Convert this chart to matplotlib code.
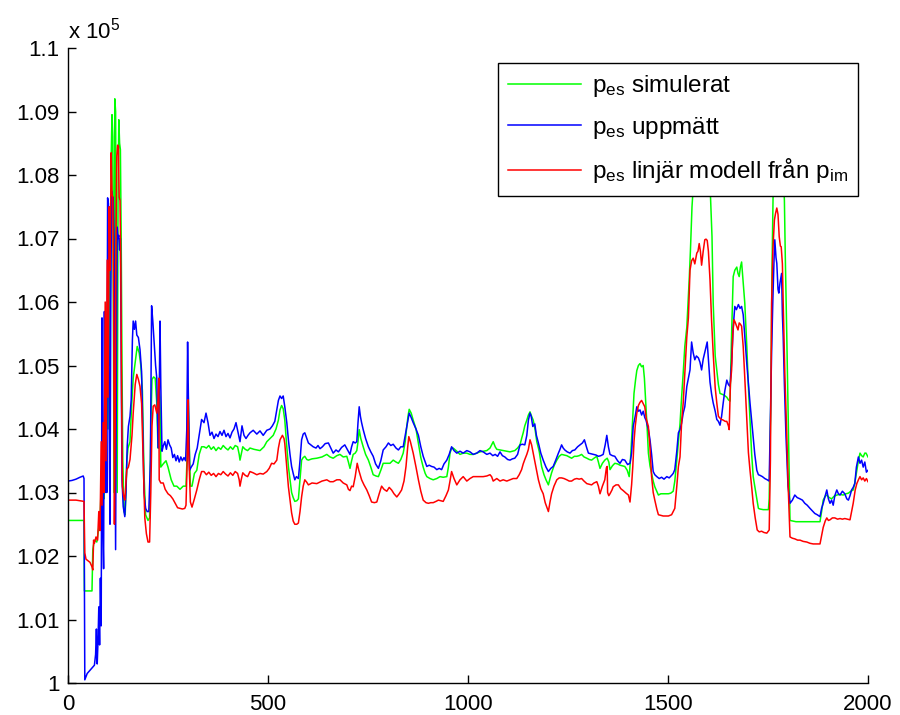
import numpy as np
import matplotlib
matplotlib.use("Agg")
import matplotlib.pyplot as plt

plt.rcParams['font.family'] = ['Liberation Sans', 'DejaVu Sans']
plt.rcParams['mathtext.default'] = 'regular'

# values in units of 10^5 Pa
simulated = [
    (0,1.0256),(20,1.0256),(40,1.0256),(41,1.0145),(50,1.0145),(60,1.0145),(62,1.021),(66,1.0225),(72,1.0222),
    (76,1.024),(80,1.0255),(83,1.031),(85,1.027),(88,1.035),(90,1.029),(93,1.045),(95,1.033),(98,1.06),(100,1.04),
    (103,1.072),(105,1.05),(108,1.083),(110,1.0895),(112,1.086),(114,1.05),(115,1.03),(117,1.092),(119,1.09),
    (121,1.06),(123,1.03),(125,1.075),(127,1.0887),(129,1.085),(131,1.084),(133,1.07),(135,1.05),(137,1.035),
    (140,1.027),(143,1.0265),(147,1.035),(150,1.037),(155,1.038),(159,1.0436),(163,1.048),(167,1.050),(173,1.053),
    (178,1.052),(182,1.050),(186,1.046),(190,1.033),(194,1.0265),(200,1.0256),(204,1.026),(207,1.04),(210,1.0478),
    (214,1.0482),(218,1.048),(222,1.044),(225,1.037),(228,1.046),(230,1.045),(232,1.034),(238,1.0345),(245,1.035),
    (250,1.034),(258,1.032),(265,1.031),(272,1.031),(280,1.0305),(288,1.031),(295,1.031),(298,1.036),(300,1.047),
    (303,1.038),(306,1.031),(310,1.031),(316,1.033),(322,1.0335),(328,1.036),(334,1.0372),(340,1.0372),(346,1.037),
    (352,1.0374),(358,1.0368),(364,1.0372),(370,1.0366),(376,1.0371),(382,1.0368),(388,1.0374),(394,1.037),
    (400,1.0367),(406,1.0372),(412,1.0368),(418,1.0374),(424,1.0372),(428,1.036),(430,1.0351),(433,1.036),
    (437,1.0372),(443,1.0368),(449,1.0366),(455,1.037),(465,1.0368),(480,1.0366),(490,1.0372),(497,1.038),
    (505,1.0385),(513,1.039),(520,1.040),(526,1.0414),(530,1.043),(534,1.0437),(538,1.0432),(542,1.0414),
    (546,1.038),(551,1.0341),(555,1.032),(559,1.030),(563,1.0292),(567,1.0286),(572,1.0287),(576,1.029),
    (580,1.032),(584,1.0351),(588,1.0355),(592,1.0357),(597,1.0352),(601,1.0351),(610,1.0353),(622,1.0354),
    (635,1.0356),(647,1.036),(655,1.0356),(663,1.0354),(672,1.0358),(680,1.036),(688,1.0356),(697,1.0357),
    (701,1.0348),(705,1.0338),(709,1.035),(713,1.036),(718,1.0362),(722,1.0366),(725,1.038),(728,1.0399),
    (732,1.0385),(738,1.0372),(744,1.036),(751,1.0351),(757,1.034),(763,1.0328),(770,1.0326),(776,1.0325),
    (782,1.0335),(788,1.0346),(796,1.0346),(805,1.0346),(813,1.0351),(820,1.0348),(826,1.0346),(832,1.0352),
    (838,1.0362),(843,1.038),(847,1.0404),(850,1.042),(853,1.0431),(858,1.0425),(863,1.0414),(870,1.040),
    (876,1.0378),(882,1.0355),(888,1.034),(893,1.033),(897,1.0325),(905,1.0322),(913,1.032),(922,1.0322),
    (930,1.0325),(938,1.0324),(947,1.0325),(951,1.034),(955,1.0362),(959,1.037),(963,1.037),(972,1.0365),
    (980,1.036),(988,1.0362),(997,1.0362),(1005,1.036),(1013,1.036),(1022,1.0362),(1030,1.0364),(1038,1.0365),
    (1047,1.0366),(1055,1.037),(1063,1.038),(1068,1.0372),(1072,1.0368),(1080,1.0367),(1088,1.0366),(1097,1.0365),
    (1105,1.0364),(1117,1.0366),(1124,1.037),(1130,1.0375),(1134,1.0385),(1138,1.0394),(1142,1.0405),(1147,1.0414),
    (1151,1.0422),(1155,1.0427),(1159,1.042),(1163,1.0414),(1168,1.0398),(1172,1.038),(1178,1.0365),(1184,1.0341),
    (1190,1.0328),(1195,1.032),(1201,1.0312),(1205,1.0322),(1209,1.0331),(1215,1.0342),(1222,1.0351),(1228,1.0357),
    (1234,1.036),(1240,1.0359),(1247,1.0358),(1253,1.0356),(1259,1.0354),(1266,1.0357),(1272,1.0357),(1278,1.0358),
    (1284,1.036),(1290,1.0356),(1297,1.0354),(1303,1.0352),(1309,1.0351),(1315,1.0354),(1322,1.0357),(1326,1.0348),
    (1330,1.0338),(1336,1.0346),(1342,1.0351),(1348,1.0354),(1352,1.0348),(1355,1.0336),(1361,1.0342),(1367,1.0346),
    (1374,1.0345),(1380,1.0343),(1386,1.0342),(1392,1.0341),(1398,1.0335),(1403,1.0325),(1406,1.035),(1409,1.0383),
    (1412,1.042),(1415,1.0456),(1419,1.0478),(1422,1.0492),(1426,1.050),(1430,1.0503),(1434,1.0498),(1438,1.050),
    (1441,1.048),(1445,1.0436),(1448,1.040),(1451,1.0362),(1455,1.0342),(1459,1.033),(1463,1.0318),(1467,1.0309),
    (1472,1.0302),(1476,1.0296),(1482,1.0298),(1488,1.0298),(1495,1.0298),(1501,1.0298),(1507,1.0299),(1513,1.0302),
    (1517,1.0318),(1522,1.0351),(1526,1.038),(1530,1.0408),(1534,1.045),(1538,1.0488),(1542,1.053),(1547,1.056),
    (1551,1.061),(1553,1.0635),(1556,1.068),(1560,1.075),(1565,1.080),(1572,1.0815),(1580,1.082),(1588,1.0815),
    (1596,1.082),(1602,1.0805),(1606,1.077),(1610,1.0703),(1613,1.0598),(1618,1.0515),(1622,1.0493),(1626,1.047),
    (1630,1.0456),(1634,1.0455),(1638,1.0454),(1643,1.0452),(1647,1.045),(1651,1.0446),(1655,1.0444),(1659,1.055),
    (1663,1.064),(1667,1.065),(1672,1.0655),(1675,1.0645),(1678,1.064),(1681,1.0655),(1684,1.0663),(1688,1.063),
    (1692,1.0598),(1697,1.053),(1701,1.0467),(1705,1.0415),(1709,1.0362),(1713,1.0325),(1717,1.0309),(1722,1.029),
    (1726,1.0275),(1730,1.0274),(1738,1.0273),(1745,1.0273),(1751,1.0273),(1753,1.029),(1757,1.0441),(1760,1.065),
    (1763,1.078),(1768,1.082),(1775,1.0825),(1782,1.082),(1788,1.081),(1791,1.076),(1793,1.068),(1797,1.0545),
    (1801,1.04),(1805,1.0256),(1812,1.0255),(1820,1.0254),(1830,1.0254),(1840,1.0254),(1850,1.0254),(1860,1.0254),
    (1870,1.0254),(1880,1.0254),(1884,1.027),(1888,1.0288),(1893,1.0294),(1897,1.0296),(1903,1.0292),(1909,1.029),
    (1915,1.0294),(1922,1.0296),(1930,1.0297),(1938,1.0296),(1945,1.0298),(1951,1.0299),(1957,1.0302),(1963,1.0304),
    (1967,1.0315),(1972,1.0335),(1976,1.035),(1980,1.0362),(1984,1.0358),(1988,1.0356),(1992,1.0362),(1995,1.0362),
    (2000,1.0356),
]

measured = [
    (0,1.0318),(10,1.0319),(20,1.0321),(30,1.0324),(38,1.0326),(40,1.0322),(42,1.0005),(48,1.0015),(55,1.002),
    (62,1.0025),(66,1.0028),(69,1.0045),(71,1.0085),(73,1.003),(75,1.0065),(77,1.012),(79,1.006),(81,1.0165),
    (83,1.009),(85,1.0575),(87,1.025),(89,1.018),(91,1.0585),(93,1.03),(95,1.046),(97,1.03),(99,1.0764),
    (101,1.0755),(103,1.04),(105,1.025),(107,1.06),(109,1.0775),(111,1.076),(113,1.0765),(115,1.07),(117,1.045),
    (119,1.021),(121,1.05),(123,1.0718),(125,1.07),(127,1.0705),(129,1.0682),(131,1.07),(133,1.05),(135,1.032),
    (138,1.0278),(142,1.0262),(145,1.030),(148,1.0373),(151,1.0404),(155,1.042),(158,1.0446),(161,1.054),
    (163,1.057),(166,1.0557),(169,1.057),(172,1.0548),(176,1.0544),(180,1.0525),(184,1.049),(187,1.040),
    (190,1.030),(194,1.0275),(198,1.027),(202,1.027),(206,1.035),(209,1.0594),(212,1.057),(215,1.0541),
    (219,1.050),(222,1.048),(224,1.041),(226,1.037),(228,1.045),(230,1.057),(232,1.047),(235,1.0365),
    (238,1.0373),(242,1.038),(246,1.0368),(250,1.0383),(254,1.0375),(258,1.037),(262,1.0355),(266,1.036),
    (270,1.035),(274,1.0358),(278,1.0348),(282,1.0356),(286,1.035),(290,1.0355),(294,1.035),(297,1.040),
    (299,1.0537),(301,1.045),(304,1.0335),(308,1.034),(313,1.0345),(318,1.036),(323,1.037),(328,1.039),
    (334,1.0415),(340,1.041),(345,1.0425),(350,1.041),(355,1.039),(360,1.0395),(365,1.0385),(370,1.0392),
    (375,1.0388),(380,1.0396),(385,1.039),(390,1.0398),(395,1.0388),(400,1.0393),(405,1.0386),(410,1.0395),
    (415,1.040),(420,1.041),(425,1.0395),(430,1.038),(435,1.0405),(440,1.039),(445,1.0385),(450,1.039),
    (455,1.0394),(463,1.0398),(472,1.0392),(480,1.0397),(488,1.039),(497,1.0398),(505,1.040),(511,1.0405),
    (517,1.0412),(522,1.043),(526,1.0445),(530,1.0452),(534,1.0448),(538,1.0452),(542,1.0435),(547,1.041),
    (551,1.0383),(555,1.036),(559,1.0341),(563,1.033),(567,1.032),(571,1.0325),(576,1.0322),(580,1.035),
    (584,1.0383),(588,1.0392),(592,1.0394),(597,1.0385),(601,1.0378),(607,1.0375),(613,1.0372),(620,1.037),
    (625,1.0374),(630,1.0369),(636,1.0372),(643,1.0377),(651,1.0378),(657,1.037),(663,1.0362),(670,1.0367),
    (676,1.0364),(684,1.0371),(692,1.0375),(698,1.0368),(705,1.036),(709,1.0372),(713,1.038),(718,1.0378),
    (722,1.038),(725,1.041),(728,1.0435),(731,1.042),(734,1.041),(738,1.0399),(744,1.0385),(751,1.0372),
    (757,1.0364),(763,1.0357),(769,1.0345),(776,1.0338),(782,1.035),(788,1.0367),(795,1.0372),(801,1.0378),
    (807,1.0374),(813,1.0376),(820,1.037),(826,1.0367),(832,1.0372),(838,1.0372),(843,1.039),(847,1.0404),
    (850,1.0415),(853,1.0425),(858,1.0418),(863,1.041),(870,1.040),(876,1.039),(882,1.0372),(888,1.0357),
    (893,1.0348),(897,1.0341),(903,1.0343),(909,1.0341),(915,1.034),(922,1.0336),(928,1.0338),(934,1.0336),
    (940,1.0345),(947,1.0351),(953,1.036),(959,1.0372),(965,1.0366),(972,1.0362),(980,1.0365),(988,1.0362),
    (997,1.0366),(1005,1.0364),(1013,1.036),(1022,1.0362),(1030,1.0366),(1038,1.0364),(1047,1.0360),(1055,1.0362),
    (1062,1.0358),(1068,1.0360),(1074,1.0357),(1080,1.0364),(1086,1.0358),(1092,1.0356),(1099,1.0352),(1105,1.0351),
    (1111,1.0353),(1117,1.0354),(1124,1.036),(1130,1.0375),(1136,1.0376),(1142,1.0375),(1147,1.039),(1151,1.0414),
    (1155,1.0425),(1158,1.042),(1162,1.0404),(1167,1.0408),(1171,1.039),(1176,1.0378),(1182,1.0362),(1188,1.0351),
    (1195,1.034),(1201,1.0333),(1207,1.0338),(1213,1.0341),(1220,1.0352),(1226,1.0362),(1230,1.0368),(1234,1.0375),
    (1238,1.037),(1242,1.0367),(1248,1.0364),(1255,1.0362),(1261,1.0366),(1267,1.0367),(1274,1.0372),(1280,1.0375),
    (1286,1.0378),(1291,1.0383),(1296,1.0372),(1301,1.0362),(1307,1.0361),(1313,1.036),(1320,1.0359),(1326,1.0357),
    (1332,1.0358),(1338,1.036),(1343,1.0375),(1347,1.039),(1351,1.0372),(1355,1.036),(1361,1.0358),(1367,1.0357),
    (1374,1.035),(1380,1.0346),(1386,1.0352),(1392,1.0351),(1399,1.0344),(1405,1.0346),(1409,1.0362),(1413,1.0404),
    (1418,1.042),(1422,1.0435),(1426,1.0428),(1430,1.043),(1434,1.0422),(1438,1.0428),(1442,1.0418),(1445,1.0414),
    (1451,1.0399),(1455,1.0383),(1459,1.036),(1463,1.0333),(1467,1.0328),(1472,1.0325),(1478,1.0322),(1484,1.0324),
    (1490,1.0321),(1497,1.0325),(1503,1.0323),(1509,1.0327),(1513,1.033),(1517,1.0336),(1522,1.0365),(1526,1.0394),
    (1530,1.0399),(1534,1.0409),(1538,1.0425),(1542,1.0435),(1547,1.0467),(1551,1.048),(1555,1.0493),(1559,1.0537),
    (1563,1.052),(1567,1.0509),(1571,1.0515),(1576,1.0512),(1580,1.0505),(1584,1.0493),(1588,1.051),(1592,1.0521),
    (1595,1.053),(1598,1.0537),(1601,1.051),(1605,1.0474),(1609,1.0455),(1613,1.0441),(1618,1.0428),(1622,1.0415),
    (1626,1.0412),(1630,1.0406),(1634,1.042),(1638,1.0441),(1642,1.046),(1647,1.0477),(1651,1.047),(1655,1.0467),
    (1659,1.0505),(1663,1.056),(1667,1.0593),(1671,1.0588),(1676,1.0596),(1680,1.059),(1684,1.0593),(1688,1.058),
    (1692,1.0545),(1697,1.0503),(1701,1.0472),(1705,1.0441),(1709,1.0414),(1713,1.0388),(1717,1.036),(1722,1.0335),
    (1726,1.0328),(1730,1.0327),(1736,1.0325),(1742,1.0322),(1748,1.032),(1753,1.0318),(1755,1.0388),(1759,1.052),
    (1762,1.060),(1765,1.0665),(1767,1.0698),(1770,1.067),(1772,1.0661),(1775,1.062),(1777,1.0614),(1780,1.063),
    (1784,1.0645),(1786,1.058),(1788,1.0545),(1791,1.047),(1795,1.0388),(1800,1.031),(1805,1.0283),(1811,1.0288),
    (1817,1.0296),(1823,1.0292),(1830,1.029),(1836,1.0288),(1842,1.0283),(1848,1.028),(1855,1.0275),(1861,1.0271),
    (1867,1.0267),(1873,1.0265),(1880,1.0262),(1884,1.0275),(1888,1.0283),(1893,1.0295),(1897,1.0304),(1901,1.029),
    (1905,1.0283),(1909,1.0288),(1913,1.028),(1917,1.0295),(1922,1.0304),(1926,1.0298),(1930,1.0296),(1936,1.0302),
    (1942,1.0298),(1947,1.029),(1951,1.0288),(1955,1.0295),(1959,1.0304),(1963,1.0308),(1967,1.0314),(1971,1.034),
    (1976,1.0356),(1980,1.0346),(1984,1.0351),(1988,1.034),(1992,1.0348),(1996,1.0332),(2000,1.0335),
]

linear = [
    (0,1.0288),(20,1.0288),(40,1.0286),(42,1.0205),(45,1.0195),(55,1.019),(60,1.0183),(62,1.0178),(64,1.0225),
    (66,1.022),(70,1.023),(74,1.0225),(77,1.027),(80,1.024),(83,1.038),(85,1.028),(88,1.041),(90,1.03),(93,1.06),
    (95,1.035),(98,1.0666),(100,1.045),(103,1.075),(105,1.065),(108,1.0835),(110,1.077),(112,1.0765),(114,1.06),
    (116,1.025),(118,1.04),(120,1.07),(122,1.083),(124,1.0847),(126,1.0845),(128,1.0765),(130,1.076),(132,1.065),
    (134,1.045),(136,1.031),(139,1.0295),(142,1.0288),(147,1.0336),(151,1.034),(155,1.0352),(160,1.039),
    (163,1.0425),(168,1.047),(172,1.0486),(176,1.0478),(180,1.0467),(184,1.044),(188,1.035),(192,1.026),
    (196,1.0235),(200,1.0222),(204,1.0222),(207,1.030),(210,1.0405),(213,1.0436),(217,1.0438),(222,1.0425),
    (225,1.0445),(227,1.048),(228,1.032),(232,1.0315),(238,1.0315),(243,1.0305),(250,1.0298),(256,1.0295),
    (262,1.029),(268,1.0283),(274,1.0276),(280,1.0275),(286,1.0274),(292,1.0275),(295,1.028),(298,1.035),
    (300,1.0446),(302,1.036),(306,1.0285),(310,1.0277),(316,1.029),(322,1.0304),(328,1.032),(334,1.0333),
    (340,1.0333),(346,1.0328),(352,1.0332),(358,1.0327),(364,1.033),(370,1.0325),(376,1.033),(382,1.0328),
    (388,1.0333),(394,1.0329),(400,1.0326),(406,1.0331),(412,1.0327),(418,1.0333),(424,1.033),(428,1.032),
    (430,1.031),(433,1.032),(437,1.0331),(443,1.0327),(449,1.0325),(455,1.0333),(463,1.0331),(472,1.0328),
    (480,1.033),(488,1.0329),(497,1.0333),(503,1.0338),(509,1.0346),(515,1.0345),(522,1.0351),(526,1.037),
    (530,1.0383),(536,1.039),(540,1.0385),(542,1.0377),(547,1.034),(551,1.0309),(555,1.0288),(559,1.0268),
    (563,1.0255),(567,1.025),(572,1.025),(576,1.0252),(580,1.027),(584,1.0293),(588,1.031),(592,1.032),
    (597,1.0316),(601,1.0312),(610,1.0315),(622,1.0314),(635,1.0318),(647,1.032),(655,1.0317),(663,1.0317),
    (672,1.032),(680,1.032),(688,1.0315),(697,1.0312),(701,1.0305),(705,1.0303),(709,1.031),(713,1.0309),
    (718,1.0325),(723,1.0346),(727,1.0335),(734,1.032),(740,1.0312),(747,1.0304),(753,1.0295),(759,1.0285),
    (766,1.0284),(772,1.0285),(778,1.0298),(784,1.031),(790,1.0305),(797,1.0302),(803,1.0308),(809,1.0304),
    (815,1.0298),(822,1.0293),(828,1.0298),(834,1.0304),(840,1.0318),(845,1.0341),(849,1.037),(852,1.0388),
    (856,1.038),(863,1.0362),(870,1.034),(876,1.0320),(882,1.0302),(888,1.0288),(895,1.0284),(901,1.0283),
    (907,1.0284),(913,1.0284),(920,1.0286),(926,1.0288),(932,1.0287),(938,1.0286),(945,1.0295),(951,1.0304),
    (955,1.0318),(959,1.0333),(965,1.0322),(972,1.0312),(980,1.032),(988,1.0325),(997,1.0318),(1005,1.0322),
    (1013,1.0325),(1022,1.0325),(1030,1.0325),(1038,1.0325),(1047,1.0326),(1055,1.0328),(1059,1.0325),(1063,1.0318),
    (1072,1.0322),(1080,1.0318),(1088,1.032),(1097,1.0318),(1105,1.032),(1113,1.0322),(1122,1.0322),(1128,1.0328),
    (1134,1.0336),(1138,1.0345),(1142,1.0352),(1147,1.036),(1151,1.0368),(1155,1.0383),(1159,1.0375),(1163,1.0362),
    (1170,1.034),(1176,1.0320),(1182,1.0306),(1188,1.0298),(1193,1.0284),(1197,1.0277),(1201,1.027),(1205,1.0285),
    (1209,1.0298),(1215,1.031),(1222,1.032),(1228,1.0323),(1234,1.0323),(1240,1.0322),(1247,1.032),(1253,1.0318),
    (1259,1.0318),(1266,1.0321),(1272,1.0322),(1278,1.0321),(1284,1.0322),(1290,1.0318),(1297,1.0314),(1303,1.0313),
    (1309,1.0312),(1315,1.0315),(1322,1.0317),(1326,1.031),(1330,1.0298),(1336,1.031),(1342,1.032),(1346,1.0339),
    (1348,1.0341),(1349,1.0300),(1352,1.0295),(1355,1.0298),(1360,1.0304),(1363,1.0309),(1370,1.0312),(1376,1.0312),
    (1382,1.0306),(1388,1.0303),(1395,1.0299),(1401,1.0296),(1405,1.0285),(1409,1.0312),(1412,1.0341),(1415,1.038),
    (1418,1.0404),(1422,1.0425),(1426,1.0437),(1430,1.0442),(1434,1.0445),(1438,1.044),(1442,1.0435),(1446,1.0415),
    (1451,1.0404),(1455,1.037),(1459,1.0325),(1463,1.030),(1467,1.0288),(1472,1.0274),(1476,1.0265),(1482,1.0264),
    (1488,1.0263),(1495,1.0263),(1501,1.0263),(1509,1.0265),(1513,1.027),(1517,1.0275),(1522,1.031),(1526,1.0341),
    (1530,1.0356),(1534,1.041),(1538,1.0441),(1543,1.050),(1547,1.0545),(1551,1.0575),(1555,1.065),(1559,1.0665),
    (1563,1.0669),(1567,1.066),(1572,1.0677),(1575,1.068),(1578,1.0692),(1581,1.068),(1584,1.0658),(1588,1.068),
    (1592,1.0698),(1595,1.0699),(1598,1.0697),(1601,1.068),(1605,1.0635),(1609,1.057),(1613,1.0519),(1618,1.0465),
    (1622,1.0441),(1626,1.042),(1630,1.0417),(1634,1.0415),(1638,1.0414),(1643,1.0412),(1647,1.0412),(1651,1.0405),
    (1653,1.0399),(1656,1.047),(1659,1.0493),(1662,1.055),(1665,1.0572),(1668,1.0568),(1672,1.0561),(1675,1.0556),
    (1678,1.0567),(1681,1.0565),(1684,1.0562),(1688,1.053),(1691,1.0493),(1697,1.0414),(1701,1.0363),(1705,1.0335),
    (1709,1.031),(1713,1.0283),(1718,1.026),(1723,1.0241),(1728,1.0238),(1734,1.0239),(1740,1.0237),(1747,1.0236),
    (1753,1.0241),(1756,1.035),(1759,1.0598),(1762,1.068),(1766,1.0729),(1769,1.0740),(1772,1.0748),(1775,1.0738),
    (1778,1.0703),(1781,1.0688),(1783,1.0687),(1786,1.066),(1788,1.0598),(1792,1.049),(1797,1.0388),(1801,1.030),
    (1805,1.023),(1811,1.0228),(1817,1.0227),(1824,1.0225),(1830,1.0225),(1838,1.0223),(1847,1.0222),(1855,1.022),
    (1863,1.0219),(1872,1.0219),(1880,1.0219),(1884,1.0232),(1888,1.0245),(1893,1.0255),(1897,1.026),(1901,1.0256),
    (1905,1.0257),(1911,1.026),(1917,1.026),(1924,1.0258),(1930,1.0259),(1936,1.0258),(1942,1.0259),(1948,1.0258),
    (1955,1.0257),(1959,1.027),(1963,1.0283),(1968,1.0304),(1972,1.0314),(1976,1.032),(1980,1.0325),(1984,1.032),
    (1988,1.0323),(1992,1.0318),(1996,1.0322),(2000,1.0317),
]

labels = [r'p$_{es}$ simulerat', r'p$_{es}$ uppmätt', r'p$_{es}$ linjär modell från p$_{im}$']
colors = ['#00ff00', '#0000ff', '#ff0000']
y_ticks = [1.0, 1.01, 1.02, 1.03, 1.04, 1.05, 1.06, 1.07, 1.08, 1.09, 1.1]
y_tick_labels = ['1', '1.01', '1.02', '1.03', '1.04', '1.05', '1.06', '1.07', '1.08', '1.09', '1.1']
x_ticks = [0, 500, 1000, 1500, 2000]

fig = plt.figure(figsize=(9, 7.15), dpi=100)
ax = fig.add_axes([68/900, 32/715, 800/900, 635/715])

for series, lab, col in zip([simulated, measured, linear], labels, colors):
    xs, ys = map(np.array, zip(*series))
    ax.plot(xs, ys, color=col, lw=1.1, label=lab)

ax.set_xlim(0, 2000)
ax.set_ylim(1.0, 1.1)
ax.set_xticks(x_ticks)
ax.set_yticks(y_ticks)
ax.set_yticklabels(y_tick_labels)
ax.spines['top'].set_visible(False)
ax.spines['right'].set_visible(False)
for s in ['left', 'bottom']:
    ax.spines[s].set_linewidth(1.0)
ax.tick_params(direction='in', length=5.5, width=1.0, labelsize=16)
ax.tick_params(axis='y', pad=6)
ax.tick_params(axis='x', pad=8)

fig.text(68/900, 1 - 38/715, r'x 10$^{5}$', fontsize=16, ha='left', va='baseline')

leg = ax.legend(loc='upper right', bbox_to_anchor=((858-68)/800, (683-63)/635), fontsize=17.5,
                frameon=True, fancybox=False, framealpha=1, edgecolor='black',
                handlelength=3.0, handletextpad=0.45, labelspacing=0.64, borderpad=0.42,
                borderaxespad=0)
leg.get_frame().set_linewidth(1.0)

fig.savefig('out.png', dpi=100)
